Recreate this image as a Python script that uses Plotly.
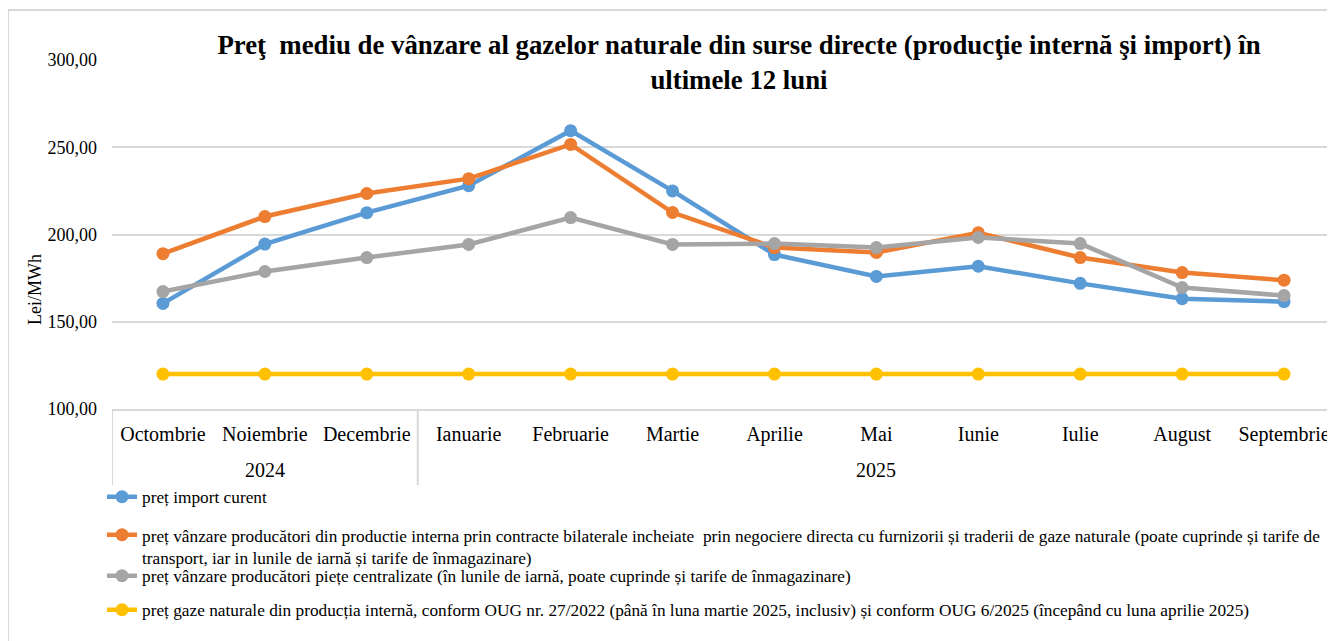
import plotly.graph_objects as go

year_labels = ["2024", "2025"]
year_centers = ["Noiembrie", "Mai"]
months = ["Octombrie", "Noiembrie", "Decembrie", "Ianuarie", "Februarie", "Martie",
          "Aprilie", "Mai", "Iunie", "Iulie", "August", "Septembrie"]

import_curent = [160.5, 194.5, 212.5, 228.0, 259.5, 225.0, 188.5, 176.0, 181.8, 172.0, 163.2, 161.5]
bilaterale = [189.0, 210.3, 223.5, 232.0, 251.6, 212.6, 192.5, 189.7, 201.0, 186.8, 178.2, 173.8]
centralizate = [167.3, 178.8, 186.8, 194.3, 209.7, 194.3, 194.8, 192.5, 198.3, 194.8, 169.6, 165.0]
oug = [120.0] * 12

names = [
    "preț import curent",
    "preț vânzare producători din productie interna prin contracte bilaterale incheiate  prin negociere directa cu furnizorii și traderii de gaze naturale (poate cuprinde și tarife de<br>transport, iar in lunile de iarnă și tarife de înmagazinare)",
    "preț vânzare producători piețe centralizate (în lunile de iarnă, poate cuprinde și tarife de înmagazinare)",
    "preț gaze naturale din producția internă, conform OUG nr. 27/2022 (până în luna martie 2025, inclusiv) și conform OUG 6/2025 (începând cu luna aprilie 2025)",
]
colors = ["#5B9BD5", "#ED7D31", "#A5A5A5", "#FFC000"]
series = [import_curent, bilaterale, centralizate, oug]
legend_ids = ["legend", "legend2", "legend3", "legend4"]

FONT = "Liberation Serif, Times New Roman, serif"

fig = go.Figure()
for nm, col, vals, lg in zip(names, colors, series, legend_ids):
    fig.add_trace(go.Scatter(
        x=months, y=vals, name=nm, mode="lines+markers",
        line=dict(color=col, width=4.5),
        marker=dict(color=col, size=13),
        legend=lg,
    ))

OFF = 8  # page body margin
W, H = 1335 - OFF, 641 - OFF
L, R, T, B = 112 - OFF, 0, 60 - OFF, 641 - 409
pw = W - L - R
ph = H - T - B

def px_x(x):
    # page pixel -> paper coordinate
    return (x - OFF - L) / pw

def px_y(y):
    return (H - B - (y - OFF)) / ph

legend_common = dict(font=dict(family=FONT, size=17.3, color="#000000"),
                     bgcolor="rgba(0,0,0,0)", borderwidth=0,
                     xanchor="left", yanchor="middle", x=px_x(102), valign="top")

annotations = [dict(
    text="Lei/MWh", textangle=-90, xref="paper", yref="paper",
    x=px_x(35), y=px_y(290), xanchor="center", yanchor="middle",
    showarrow=False, font=dict(family=FONT, size=18, color="#000000"),
)]
for lab, cx in zip(year_labels, year_centers):
    annotations.append(dict(
        text=lab, xref="x", yref="paper", x=cx, y=px_y(470),
        xanchor="center", yanchor="middle", showarrow=False,
        font=dict(family=FONT, size=20, color="#000000"),
    ))

shapes = [dict(
    type="rect", xref="paper", yref="paper",
    x0=px_x(8), x1=px_x(1335 + 30), y0=px_y(641 + 30), y1=px_y(10),
    line=dict(color="#d9d9d9", width=2), fillcolor="rgba(0,0,0,0)", layer="below",
)]
for xd in [-0.5, 2.5, 11.5]:
    shapes.append(dict(
        type="line", xref="x", yref="paper", x0=xd, x1=xd, y0=0, y1=px_y(485),
        line=dict(color="#d9d9d9", width=2), layer="below",
    ))

fig.update_layout(
    width=W, height=H,
    margin=dict(l=L, r=R, t=T, b=B),
    paper_bgcolor="white", plot_bgcolor="white",
    separators=", ",
    font=dict(family=FONT, color="#000000"),
    title=dict(
        text="Preţ  mediu de vânzare al gazelor naturale din surse directe (producţie internă şi import) în<br>ultimele 12 luni",
        font=dict(family=FONT, size=26.8, color="#000000", weight="bold"),
        x=(739 - OFF) / W, xanchor="center", xref="container",
        y=1 - 46 / H, yanchor="top", yref="container",
    ),
    xaxis=dict(
        type="category",
        range=[-0.5, 11.5],
        showgrid=False,
        showline=True, linecolor="#d9d9d9", linewidth=2,
        tickfont=dict(family=FONT, size=20, color="#000000"),
        tickangle=0,
        ticks="",
        ticklabelstandoff=6,
    ),
    yaxis=dict(
        range=[100, 300], dtick=50, tick0=100,
        tickformat=".2f",
        showgrid=True, gridcolor="#d9d9d9", gridwidth=2,
        zeroline=False, showline=False,
        tickfont=dict(family=FONT, size=18, color="#000000"),
        ticklabelstandoff=14,
    ),
    legend=dict(**legend_common, y=px_y(497)),
    legend2=dict(**legend_common, y=px_y(546)),
    legend3=dict(**legend_common, y=px_y(576)),
    legend4=dict(**legend_common, y=px_y(610)),
    showlegend=True,
    annotations=annotations,
    shapes=shapes,
)

fig.write_html("out.html")
